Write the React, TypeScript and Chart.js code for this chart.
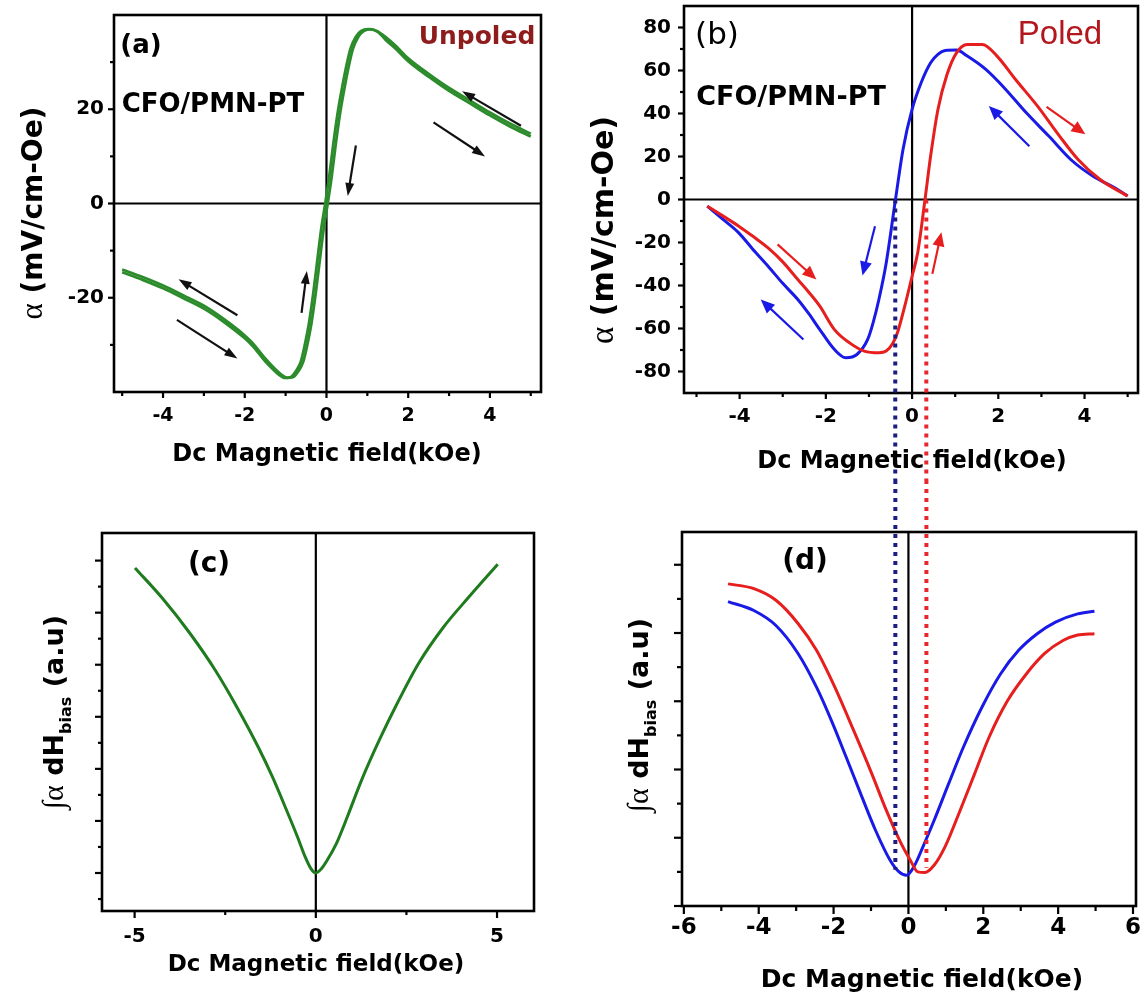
import React, { useEffect, useRef } from "react";
import { Chart, registerables } from "chart.js";

Chart.register(...registerables);

const SANS = '"DejaVu Sans", "Liberation Sans", sans-serif';
const ARIAL = '"Liberation Sans", Arial, sans-serif';
const SERIF = '"Liberation Serif", "DejaVu Serif", serif';

// ---------------- Panel (a): unpoled alpha vs H ----------------
const A_B1_X = [-5.0, -4.5, -4.0, -3.5, -3.0, -2.5, -2.0, -1.8, -1.5, -1.27, -1.12, -0.96, -0.81, -0.69, -0.57, -0.47, -0.37, -0.27, -0.17, -0.07, 0.03, 0.13, 0.23, 0.33, 0.43, 0.53, 0.65, 0.78, 0.91, 1.08, 1.25, 1.45, 1.7, 2.0, 2.5, 3.0, 3.5, 4.0, 4.5, 5.0];
const A_B1_Y = [-14.0, -15.6, -17.4, -19.5, -21.7, -24.6, -28.0, -29.7, -32.9, -35.0, -36.2, -37.0, -36.8, -35.6, -33.6, -30.0, -25.5, -19.5, -12.5, -5.5, 0, 5.9, 12.8, 19.0, 24.0, 28.5, 32.9, 35.4, 36.6, 37.0, 36.5, 35.3, 33.4, 30.8, 27.5, 24.5, 21.9, 19.3, 16.9, 14.8];
const A_B2_X = [-5.0, -4.5, -4.0, -3.5, -3.0, -2.5, -2.0, -1.8, -1.5, -1.33, -1.18, -1.02, -0.87, -0.75, -0.63, -0.53, -0.43, -0.33, -0.23, -0.13, -0.03, 0.07, 0.17, 0.27, 0.37, 0.47, 0.59, 0.72, 0.85, 1.02, 1.25, 1.45, 1.7, 2.0, 2.5, 3.0, 3.5, 4.0, 4.5, 5.0];
const A_B2_Y = [-14.6, -16.2, -18.0, -20.1, -22.3, -25.2, -28.6, -30.3, -33.5, -35.0, -36.2, -37.0, -36.8, -35.6, -33.6, -30.0, -25.5, -19.5, -12.5, -5.5, 0, 5.9, 12.8, 19.0, 24.0, 28.5, 32.9, 35.4, 36.6, 37.0, 36.5, 34.7, 32.8, 30.2, 26.9, 23.9, 21.3, 18.7, 16.3, 14.2];
const A_X_TICKS = [-4, -2, 0, 2, 4];
const A_X_MINOR = [-5, -3, -1, 1, 3, 5];
const A_Y_TICKS = [-20, 0, 20];
const A_Y_MINOR = [-30, -10, 10, 30];
// arrows: [x1, y1, x2, y2] in data units (tail -> head)
const A_ARROWS = [
  [4.76, 16.5, 3.32, 23.8],
  [2.62, 17.2, 3.88, 10.0],
  [0.72, 12.3, 0.52, 1.6],
  [-0.61, -23.2, -0.48, -14.3],
  [-2.18, -23.7, -3.62, -16.1],
  [-3.66, -24.7, -2.18, -32.9],
];

// ---------------- Panel (b): poled alpha vs H ----------------
const B_BLUE_X = [-4.75, -4.4, -4.02, -3.7, -3.34, -3.0, -2.65, -2.4, -2.14, -1.8, -1.54, -1.28, -1.03, -0.9, -0.77, -0.6, -0.385, -0.21, 0, 0.21, 0.43, 0.6, 0.77, 1.03, 1.28, 1.71, 2.14, 2.65, 3.17, 3.68, 4.19, 4.7, 5.0];
const B_BLUE_Y = [-3.1, -9, -15.5, -23, -31, -39, -46.5, -53, -60.5, -69.8, -73.6, -72.1, -65.1, -57, -46.5, -29.5, 0, 23.3, 41.9, 54.3, 63.6, 67.5, 69.3, 69.5, 66.7, 60.5, 51.9, 40.3, 29.5, 18.6, 10.9, 5.4, 1.6];
const B_RED_X = [-4.75, -4.4, -4.02, -3.7, -3.34, -3.0, -2.65, -2.4, -2.14, -1.8, -1.45, -1.11, -0.77, -0.6, -0.45, -0.34, -0.17, 0, 0.13, 0.3, 0.43, 0.6, 0.81, 1.03, 1.28, 1.63, 1.97, 2.4, 2.91, 3.42, 3.85, 4.36, 5.0];
const B_RED_Y = [-3.1, -7.5, -12.4, -17, -22.5, -29, -37.2, -43, -49.6, -60.5, -66.7, -70.5, -71.3, -70.5, -67, -62, -49.6, -35.7, -24.8, 0, 20.2, 41.9, 58.1, 68.2, 72.1, 72.1, 66.7, 55.8, 43.4, 29.5, 18.6, 9.3, 1.6];
const B_X_TICKS = [-4, -2, 0, 2, 4];
const B_X_MINOR = [-5, -3, -1, 1, 3, 5];
const B_Y_TICKS = [-80, -60, -40, -20, 0, 20, 40, 60, 80];
const B_Y_MINOR = [-70, -50, -30, -10, 10, 30, 50, 70];
const B_RED_ARROWS = [
  [3.12, 43.1, 4.02, 30.3],
  [-3.12, -20.9, -2.22, -37.2],
  [0.47, -34.6, 0.68, -15.2],
];
const B_BLUE_ARROWS = [
  [2.72, 24.8, 1.78, 43.5],
  [-0.86, -12.4, -1.15, -35.4],
  [-2.52, -65.1, -3.51, -46.5],
];
// zero-crossing fields marked by dotted lines (kOe)
const B_CROSS_BLUE = -0.39;
const B_CROSS_RED = 0.33;

// ---------------- Panel (c): integral, unpoled ----------------
const C_X = [-4.99, -4.25, -3.46, -2.77, -2.18, -1.59, -1.2, -0.81, -0.51, -0.3, -0.14, 0, 0.14, 0.3, 0.57, 0.87, 1.26, 1.75, 2.24, 2.83, 3.52, 4.21, 5.02];
const C_Y = [5.86, 5.29, 4.59, 3.89, 3.19, 2.42, 1.85, 1.21, 0.7, 0.32, 0.09, 0, 0.07, 0.23, 0.57, 1.08, 1.78, 2.55, 3.25, 4.02, 4.72, 5.29, 5.93];
const C_X_TICKS = [-5, 0, 5];
const C_X_MINOR = [-2.5, 2.5];
const C_Y_TICKS = [0, 1, 2, 3, 4, 5, 6];
const C_Y_MINOR = [-0.5, 0.5, 1.5, 2.5, 3.5, 4.5, 5.5];

// ---------------- Panel (d): integral, poled ----------------
const D_BLUE_X = [-4.82, -4.13, -3.54, -2.95, -2.46, -2.06, -1.67, -1.28, -0.88, -0.49, -0.25, -0.05, 0.15, 0.39, 0.69, 1.08, 1.47, 1.97, 2.46, 2.95, 3.44, 3.93, 4.52, 4.97];
const D_BLUE_Y = [4.46, 4.33, 4.11, 3.7, 3.21, 2.72, 2.19, 1.65, 1.11, 0.67, 0.5, 0.45, 0.58, 0.87, 1.26, 1.8, 2.33, 2.92, 3.4, 3.75, 3.99, 4.16, 4.28, 4.32];
const D_RED_X = [-4.82, -4.13, -3.54, -2.95, -2.46, -1.97, -1.47, -0.98, -0.59, -0.2, 0.05, 0.25, 0.44, 0.69, 0.98, 1.38, 1.77, 2.16, 2.65, 3.15, 3.64, 4.13, 4.52, 4.97];
const D_RED_Y = [4.72, 4.65, 4.48, 4.14, 3.75, 3.21, 2.58, 1.94, 1.4, 0.92, 0.67, 0.5, 0.49, 0.6, 0.87, 1.4, 1.94, 2.48, 3.01, 3.4, 3.7, 3.89, 3.97, 3.99];
const D_X_TICKS = [-6, -4, -2, 0, 2, 4, 6];
const D_X_MINOR = [-5, -3, -1, 1, 3, 5];
const D_Y_TICKS = [0, 1, 2, 3, 4, 5];
const D_Y_MINOR = [0.5, 1.5, 2.5, 3.5, 4.5];
const D_CROSS_BLUE = -0.35;
const D_CROSS_RED = 0.48;
const D_CROSS_BLUE_END = 0.53;
const D_CROSS_RED_END = 0.56;

// ---------------- colours ----------------
const GREEN_A = "#2c8c2c";
const GREEN_C = "#1e7b1e";
const BLUE = "#1a1ae6";
const RED = "#e61e1e";
const DOT_BLUE = "#1c1c86";
const DOT_RED = "#e8262e";

const pts = (xs: number[], ys: number[]) => xs.map((x, i) => ({ x, y: ys[i] }));

type Seg = { t: string; font: string; dy?: number };
type Txt = { t: string; x: number; y: number; font: string; color?: string };
type Arrow = { a: number[]; color: string; lw: number; hl: number; hw: number };
type Dot = { x: number; from: number | null; to: number | null; color: string };

interface PanelCfg {
  id: string;
  left: number; top: number; width: number; height: number;
  area: { l: number; t: number; r: number; b: number };
  xMin: number; xMax: number; yMin: number; yMax: number;
  xTicks: number[]; xMinor: number[]; yTicks: number[]; yMinor: number[];
  xLabelSize: number; xLabelPad: number;
  yLabelSize: number; yLabelPad: number; showYLabels: boolean;
  majorLen: number; minorLen: number;
  zeroH: boolean; zeroV: boolean;
  datasets: any[];
  texts: Txt[];
  xTitle: { t: string; x: number; y: number; font: string };
  yTitle: { segs: Seg[]; x: number; y: number };
  arrows: Arrow[];
  dots: Dot[];
}

function drawArrow(ctx: CanvasRenderingContext2D, x1: number, y1: number, x2: number, y2: number, color: string, lw: number, hl: number, hw: number) {
  const ang = Math.atan2(y2 - y1, x2 - x1);
  const c = Math.cos(ang), s = Math.sin(ang);
  const bx = x2 - hl * c, by = y2 - hl * s;
  ctx.strokeStyle = color;
  ctx.fillStyle = color;
  ctx.lineWidth = lw;
  ctx.lineCap = "butt";
  ctx.beginPath();
  ctx.moveTo(x1, y1);
  ctx.lineTo(bx + c * 1, by + s * 1);
  ctx.stroke();
  ctx.beginPath();
  ctx.moveTo(x2, y2);
  ctx.lineTo(bx + hw * s, by - hw * c);
  ctx.lineTo(bx - hw * s, by + hw * c);
  ctx.closePath();
  ctx.fill();
}

function drawRich(ctx: CanvasRenderingContext2D, segs: Seg[], x: number, y: number, rot: number) {
  ctx.save();
  ctx.translate(x, y);
  ctx.rotate(rot);
  ctx.textBaseline = "alphabetic";
  ctx.textAlign = "left";
  ctx.fillStyle = "#000";
  let total = 0;
  for (const s of segs) {
    ctx.font = s.font;
    total += ctx.measureText(s.t).width;
  }
  let cx = -total / 2;
  for (const s of segs) {
    ctx.font = s.font;
    ctx.fillText(s.t, cx, s.dy || 0);
    cx += ctx.measureText(s.t).width;
  }
  ctx.restore();
}

function Panel({ cfg }: { cfg: PanelCfg }) {
  const ref = useRef<HTMLCanvasElement>(null);
  useEffect(() => {
    const canvas = ref.current!;
    const W = cfg.width, H = cfg.height, A = cfg.area;
    const decor = {
      id: "decor_" + cfg.id,
      beforeDatasetsDraw(chart: any) {
        const ctx: CanvasRenderingContext2D = chart.ctx;
        const ca = chart.chartArea;
        const xs = chart.scales.x, ys = chart.scales.y;
        ctx.save();
        ctx.strokeStyle = "#000";
        ctx.lineWidth = 2.2;
        if (cfg.zeroH) {
          const y0 = ys.getPixelForValue(0);
          ctx.beginPath(); ctx.moveTo(ca.left, y0); ctx.lineTo(ca.right, y0); ctx.stroke();
        }
        if (cfg.zeroV) {
          const x0 = xs.getPixelForValue(0);
          ctx.beginPath(); ctx.moveTo(x0, ca.top); ctx.lineTo(x0, ca.bottom); ctx.stroke();
        }
        ctx.restore();
      },
      afterDatasetsDraw(chart: any) {
        const ctx: CanvasRenderingContext2D = chart.ctx;
        const ca = chart.chartArea;
        const xs = chart.scales.x, ys = chart.scales.y;
        ctx.save();
        // frame
        ctx.strokeStyle = "#000";
        ctx.lineWidth = 2.6;
        ctx.strokeRect(ca.left, ca.top, ca.right - ca.left, ca.bottom - ca.top);
        // ticks (outward)
        ctx.lineWidth = 2.2;
        const tickX = (v: number, len: number) => {
          const p = xs.getPixelForValue(v);
          ctx.beginPath(); ctx.moveTo(p, ca.bottom); ctx.lineTo(p, ca.bottom + len); ctx.stroke();
        };
        const tickY = (v: number, len: number) => {
          const p = ys.getPixelForValue(v);
          ctx.beginPath(); ctx.moveTo(ca.left, p); ctx.lineTo(ca.left - len, p); ctx.stroke();
        };
        cfg.xTicks.forEach((v) => tickX(v, cfg.majorLen));
        cfg.xMinor.forEach((v) => tickX(v, cfg.minorLen));
        cfg.yTicks.forEach((v) => tickY(v, cfg.majorLen));
        cfg.yMinor.forEach((v) => tickY(v, cfg.minorLen));
        // dotted guide lines
        for (const d of cfg.dots) {
          const px = xs.getPixelForValue(d.x);
          const y1 = d.from === null ? 0 : ys.getPixelForValue(d.from);
          const y2 = d.to === null ? H : ys.getPixelForValue(d.to);
          ctx.strokeStyle = d.color;
          ctx.lineWidth = 4;
          ctx.setLineDash([4, 5]);
          ctx.beginPath(); ctx.moveTo(px, y1); ctx.lineTo(px, y2); ctx.stroke();
          ctx.setLineDash([]);
        }
        // arrows
        for (const ar of cfg.arrows) {
          drawArrow(
            ctx,
            xs.getPixelForValue(ar.a[0]), ys.getPixelForValue(ar.a[1]),
            xs.getPixelForValue(ar.a[2]), ys.getPixelForValue(ar.a[3]),
            ar.color, ar.lw, ar.hl, ar.hw
          );
        }
        // in-panel texts
        ctx.textAlign = "center";
        ctx.textBaseline = "middle";
        for (const t of cfg.texts) {
          ctx.font = t.font;
          ctx.fillStyle = t.color || "#000";
          ctx.fillText(t.t, t.x, t.y);
        }
        // axis titles
        ctx.fillStyle = "#000";
        ctx.textAlign = "center";
        ctx.textBaseline = "alphabetic";
        ctx.font = cfg.xTitle.font;
        ctx.fillText(cfg.xTitle.t, cfg.xTitle.x, cfg.xTitle.y);
        drawRich(ctx, cfg.yTitle.segs, cfg.yTitle.x, cfg.yTitle.y, -Math.PI / 2);
        ctx.restore();
      },
    };

    const chart = new Chart(canvas, {
      type: "line",
      data: { datasets: cfg.datasets },
      options: {
        animation: false,
        responsive: false,
        devicePixelRatio: 1,
        layout: { padding: { left: 0, top: A.t, right: W - A.r, bottom: 0 } },
        plugins: { legend: { display: false }, tooltip: { enabled: false } },
        elements: { point: { radius: 0 } },
        scales: {
          x: {
            type: "linear",
            min: cfg.xMin,
            max: cfg.xMax,
            afterBuildTicks: (s: any) => { s.ticks = cfg.xTicks.map((v) => ({ value: v })); },
            afterFit: (s: any) => { s.height = H - A.b; s.paddingLeft = 0; s.paddingRight = 0; },
            grid: { display: false, drawTicks: false },
            border: { display: false },
            ticks: {
              autoSkip: false,
              maxRotation: 0,
              padding: cfg.xLabelPad,
              color: "#000",
              font: { family: SANS, size: cfg.xLabelSize, weight: "bold" },
              callback: (v: any) => String(v),
            },
          },
          y: {
            type: "linear",
            min: cfg.yMin,
            max: cfg.yMax,
            afterBuildTicks: (s: any) => { s.ticks = cfg.yTicks.map((v) => ({ value: v })); },
            afterFit: (s: any) => { s.width = A.l; s.paddingTop = 0; s.paddingBottom = 0; },
            grid: { display: false, drawTicks: false },
            border: { display: false },
            ticks: {
              display: cfg.showYLabels,
              autoSkip: false,
              padding: cfg.yLabelPad,
              color: "#000",
              font: { family: SANS, size: cfg.yLabelSize, weight: "bold" },
              callback: (v: any) => String(v),
            },
          },
        },
      } as any,
      plugins: [decor as any],
    });
    return () => chart.destroy();
  }, [cfg]);
  return (
    <canvas
      ref={ref}
      width={cfg.width}
      height={cfg.height}
      style={{ position: "absolute", left: cfg.left, top: cfg.top, width: cfg.width, height: cfg.height }}
    />
  );
}

const line = (data: any[], color: string, width: number, tension: number) => ({
  data,
  borderColor: color,
  borderWidth: width,
  pointRadius: 0,
  fill: false,
  tension,
  cubicInterpolationMode: tension > 0 ? "monotone" : "default",
});

const X_TITLE = "Dc Magnetic field(kOe)";

const alphaTitle = (aSize: number, size: number): Seg[] => [
  { t: "α", font: `${aSize}px ${SERIF}` },
  { t: " (mV/cm-Oe)", font: `bold ${size}px ${SANS}` },
];
const integralTitle = (size: number): Seg[] => [
  { t: "∫α", font: `${size + 3}px ${SERIF}` },
  { t: " dH", font: `bold ${size}px ${SANS}` },
  { t: "bias", font: `bold ${Math.round(size * 0.6)}px ${SANS}`, dy: 8 },
  { t: " (a.u)", font: `bold ${size}px ${SANS}` },
];

const PANEL_A: PanelCfg = {
  id: "a", left: 0, top: 0, width: 560, height: 480,
  area: { l: 114, t: 15, r: 541, b: 392 },
  xMin: -5.2, xMax: 5.25, yMin: -40, yMax: 40,
  xTicks: A_X_TICKS, xMinor: A_X_MINOR, yTicks: A_Y_TICKS, yMinor: A_Y_MINOR,
  xLabelSize: 19, xLabelPad: 13, yLabelSize: 20, yLabelPad: 10, showYLabels: true,
  majorLen: 6, minorLen: 4, zeroH: true, zeroV: true,
  datasets: [line(pts(A_B1_X, A_B1_Y), GREEN_A, 2.8, 0.4), line(pts(A_B2_X, A_B2_Y), GREEN_A, 2.8, 0.4)],
  texts: [
    { t: "(a)", x: 141, y: 46, font: `bold 26px ${SANS}` },
    { t: "Unpoled", x: 477, y: 37, font: `bold 25px ${SANS}`, color: "#8e1c1c" },
    { t: "CFO/PMN-PT", x: 213, y: 105, font: `bold 26px ${SANS}` },
  ],
  xTitle: { t: X_TITLE, x: 327, y: 461, font: `bold 24px ${SANS}` },
  yTitle: { segs: alphaTitle(31, 28), x: 42, y: 213 },
  arrows: A_ARROWS.map((a) => ({ a, color: "#111", lw: 2.2, hl: 13, hw: 4.5 })),
  dots: [],
};

const PANEL_B: PanelCfg = {
  id: "b", left: 560, top: 0, width: 581, height: 480,
  area: { l: 124, t: 6, r: 578, b: 393 },
  xMin: -5.29, xMax: 5.24, yMin: -90, yMax: 90,
  xTicks: B_X_TICKS, xMinor: B_X_MINOR, yTicks: B_Y_TICKS, yMinor: B_Y_MINOR,
  xLabelSize: 20, xLabelPad: 12, yLabelSize: 20, yLabelPad: 13, showYLabels: true,
  majorLen: 6, minorLen: 4, zeroH: true, zeroV: true,
  datasets: [line(pts(B_RED_X, B_RED_Y), RED, 3, 0.2), line(pts(B_BLUE_X, B_BLUE_Y), BLUE, 3, 0.2)],
  texts: [
    { t: "(b)", x: 157, y: 36, font: `31px ${SANS}` },
    { t: "Poled", x: 500, y: 35, font: `33px ${ARIAL}`, color: "#b3161c" },
    { t: "CFO/PMN-PT", x: 231, y: 98, font: `bold 27px ${SANS}` },
  ],
  xTitle: { t: X_TITLE, x: 352, y: 468, font: `bold 24px ${SANS}` },
  yTitle: { segs: alphaTitle(33, 30), x: 53, y: 230 },
  arrows: [
    ...B_RED_ARROWS.map((a) => ({ a, color: RED, lw: 2.2, hl: 14, hw: 6 })),
    ...B_BLUE_ARROWS.map((a) => ({ a, color: BLUE, lw: 2.2, hl: 14, hw: 6 })),
  ],
  dots: [
    { x: B_CROSS_BLUE, from: 0, to: null, color: DOT_BLUE },
    { x: B_CROSS_RED, from: 0, to: null, color: DOT_RED },
  ],
};

const PANEL_C: PanelCfg = {
  id: "c", left: 0, top: 490, width: 560, height: 502,
  area: { l: 102, t: 43, r: 534, b: 421 },
  xMin: -5.9, xMax: 6.02, yMin: -0.73, yMax: 6.53,
  xTicks: C_X_TICKS, xMinor: C_X_MINOR, yTicks: C_Y_TICKS, yMinor: C_Y_MINOR,
  xLabelSize: 20, xLabelPad: 14, yLabelSize: 20, yLabelPad: 8, showYLabels: false,
  majorLen: 7, minorLen: 4, zeroH: false, zeroV: true,
  datasets: [line(pts(C_X, C_Y), GREEN_C, 3, 0.4)],
  texts: [{ t: "(c)", x: 209, y: 75, font: `bold 28px ${SANS}` }],
  xTitle: { t: X_TITLE, x: 316, y: 481, font: `bold 23px ${SANS}` },
  yTitle: { segs: integralTitle(27), x: 63, y: 222 },
  arrows: [],
  dots: [],
};

const PANEL_D: PanelCfg = {
  id: "d", left: 560, top: 480, width: 581, height: 512,
  area: { l: 122, t: 52, r: 576, b: 426 },
  xMin: -6.05, xMax: 6.08, yMin: 0, yMax: 5.48,
  xTicks: D_X_TICKS, xMinor: D_X_MINOR, yTicks: D_Y_TICKS, yMinor: D_Y_MINOR,
  xLabelSize: 23, xLabelPad: 8, yLabelSize: 20, yLabelPad: 8, showYLabels: false,
  majorLen: 8, minorLen: 5, zeroH: false, zeroV: true,
  datasets: [line(pts(D_RED_X, D_RED_Y), RED, 3, 0.4), line(pts(D_BLUE_X, D_BLUE_Y), BLUE, 3, 0.4)],
  texts: [{ t: "(d)", x: 245, y: 82, font: `bold 28px ${SANS}` }],
  xTitle: { t: X_TITLE, x: 362, y: 507, font: `bold 25px ${SANS}` },
  yTitle: { segs: integralTitle(27), x: 88, y: 235 },
  arrows: [],
  dots: [
    { x: D_CROSS_BLUE, from: null, to: D_CROSS_BLUE_END, color: DOT_BLUE },
    { x: D_CROSS_RED, from: null, to: D_CROSS_RED_END, color: DOT_RED },
  ],
};

export default function App() {
  return (
    <div style={{ position: "absolute", left: 0, top: 0, width: 1141, height: 992, background: "#fff", overflow: "hidden" }}>
      <Panel cfg={PANEL_A} />
      <Panel cfg={PANEL_B} />
      <Panel cfg={PANEL_C} />
      <Panel cfg={PANEL_D} />
    </div>
  );
}
